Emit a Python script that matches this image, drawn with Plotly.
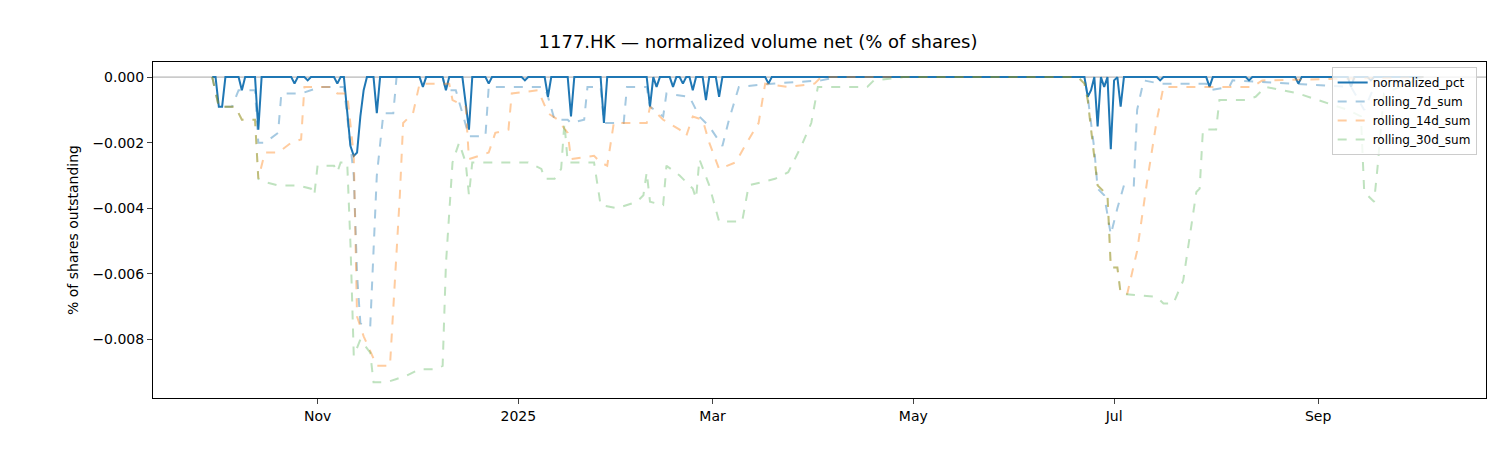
import pandas as pd
import plotly.graph_objects as go

START = "2024-09-30"
N_DAYS = 369

# normalized_pct: nonzero days (day offset from START -> value); all other days 0
norm_days = [2, 3, 9, 14, 25, 29, 38, 41, 42, 43, 44, 45, 46, 50, 64, 71, 77, 78, 84, 95,
             102, 109, 119, 133, 135, 140, 143, 146, 150, 154, 169,
             266, 267, 269, 271, 273, 274, 276, 288, 303, 315, 330, 346, 352]
norm_vals = [-0.0009, -0.0009, -0.0004, -0.0016, -0.0002, -0.0001, -0.0002, -0.0010, -0.0021, -0.0024,
             -0.0023, -0.0012, -0.0004, -0.0011, -0.0003, -0.0004, -0.0008, -0.0016, -0.0002, -0.0001,
             -0.0006, -0.0012, -0.0014, -0.0009, -0.0003, -0.0003, -0.0002, -0.0004, -0.0007, -0.0006, -0.0002,
             -0.0006, -0.0004, -0.0015, -0.0003, -0.0022, -0.0001, -0.0009, -0.0001, -0.0003, -0.0001,
             -0.0002, -0.0003, -0.0001]

r7_days = [0, 2, 6, 8, 13, 14, 16, 20, 21, 27, 33, 40, 43, 44, 45, 47, 48, 50, 52, 55, 56, 70, 71, 74, 76,
           78, 83, 84, 96, 101, 102, 104, 108, 109, 113, 114, 118, 119, 125, 126, 132, 133, 137, 138,
           145, 148, 151, 155, 157, 160, 170, 185, 190, 265, 266, 268, 269, 271, 273, 275, 277, 280,
           281, 283, 288, 302, 303, 309, 310, 330, 346, 350, 353, 368]
r7_vals = [0, -0.0009, -0.0009, -0.0004, -0.0004, -0.0020, -0.0020, -0.0017, -0.0005, -0.0005, -0.0003,
           -0.0003, -0.0030, -0.0060, -0.0075, -0.0076, -0.0076, -0.0030, -0.0011, -0.0011, 0, 0, -0.0004,
           -0.0004, -0.0011, -0.0018, -0.0018, -0.0003, -0.0003, -0.0003, -0.0006, -0.0013, -0.0013,
           -0.0014, -0.0013, -0.0003, -0.0003, -0.0014, -0.0014, -0.0003, -0.0003, -0.0009, -0.0012,
           -0.0005, -0.0006, -0.0012, -0.0015, -0.0021, -0.0013, -0.0003, -0.0002, -0.0001, 0, 0,
           -0.0006, -0.0022, -0.0034, -0.0036, -0.0048, -0.0040, -0.0033, -0.0033, -0.0010, -0.0001,
           -0.0002, -0.0002, -0.0004, -0.0003, -0.0001, -0.0002, -0.0003, -0.0010, -0.0003, 0]

r14_days = [0, 2, 7, 9, 13, 14, 16, 20, 24, 27, 28, 36, 38, 41, 43, 44, 46, 50, 54, 57, 58, 61, 63, 72,
            73, 77, 78, 81, 84, 86, 90, 91, 99, 102, 105, 108, 109, 116, 118, 120, 122, 132, 133, 137,
            142, 144, 146, 149, 151, 154, 159, 163, 166, 168, 175, 183, 185, 263, 265, 266, 267, 269,
            272, 273, 275, 276, 278, 281, 284, 287, 289, 316, 319, 368]
r14_vals = [0, -0.0009, -0.0009, -0.0013, -0.0013, -0.0031, -0.0023, -0.0023, -0.0020, -0.0019, -0.0003,
            -0.0003, -0.0005, -0.0005, -0.0024, -0.0073, -0.0079, -0.0088, -0.0088, -0.0036, -0.0014,
            -0.0011, -0.0002, -0.0002, -0.0007, -0.0009, -0.0025, -0.0024, -0.0023, -0.0017, -0.0016,
            -0.0005, -0.0004, -0.0011, -0.0013, -0.0017, -0.0025, -0.0024, -0.0026, -0.0027, -0.0014,
            -0.0014, -0.0009, -0.0013, -0.0016, -0.0018, -0.0012, -0.0013, -0.0020, -0.0028, -0.0026,
            -0.0019, -0.0014, -0.0002, -0.0003, -0.0002, 0, 0, -0.0002, -0.0007, -0.0016, -0.0033,
            -0.0036, -0.0058, -0.0058, -0.0066, -0.0066, -0.0053, -0.0032, -0.0013, -0.0003, -0.0003,
            -0.0001, 0]

r30_days = [0, 2, 7, 9, 13, 14, 16, 20, 26, 30, 31, 32, 37, 38, 39, 41, 42, 43, 45, 48, 49, 53, 56, 59,
            63, 68, 70, 71, 73, 75, 77, 78, 79, 94, 96, 100, 101, 104, 106, 107, 108, 116, 118, 123, 129,
            131, 132, 133, 137, 138, 142, 146, 147, 148, 151, 154, 161, 163, 171, 175, 179, 182, 184,
            199, 201, 210, 263, 265, 266, 267, 269, 272, 273, 275, 276, 287, 289, 292, 295, 299, 300,
            301, 305, 306, 314, 317, 320, 330, 345, 349, 350, 353, 354, 356, 368]
r30_vals = [0, -0.0009, -0.0009, -0.0013, -0.0013, -0.0031, -0.0032, -0.0033, -0.0033, -0.0034, -0.0036,
            -0.0027, -0.0027, -0.0029, -0.0026, -0.0026, -0.0051, -0.0085, -0.0080, -0.0084, -0.0093,
            -0.0093, -0.0092, -0.0091, -0.0089, -0.0089, -0.0088, -0.0057, -0.0026, -0.0020, -0.0026,
            -0.0036, -0.0026, -0.0026, -0.0026, -0.0028, -0.0031, -0.0031, -0.0028, -0.0014, -0.0026,
            -0.0026, -0.0039, -0.0040, -0.0038, -0.0036, -0.0029, -0.0038, -0.0039, -0.0027, -0.0030,
            -0.0034, -0.0037, -0.0025, -0.0033, -0.0044, -0.0044, -0.0033, -0.0031, -0.0029, -0.0021,
            -0.0014, -0.0003, -0.0003, -0.0001, 0, 0, -0.0002, -0.0007, -0.0016, -0.0033, -0.0036,
            -0.0058, -0.0058, -0.0066, -0.0067, -0.0069, -0.0069, -0.0062, -0.0035, -0.0034, -0.0016,
            -0.0016, -0.0007, -0.0007, -0.0006, -0.0003, -0.0005, -0.0010, -0.0012, -0.0035, -0.0038,
            -0.0028, -0.0005, 0]

tick_dates = ["2024-11-01", "2025-01-01", "2025-03-01", "2025-05-01", "2025-07-01", "2025-09-01"]
tick_labels = ["Nov", "2025", "Mar", "May", "Jul", "Sep"]
y_ticks = [0.0, -0.002, -0.004, -0.006, -0.008]

start = pd.Timestamp(START)
def to_dates(days):
    return [start + pd.Timedelta(days=d) for d in days]

norm_map = dict(zip(norm_days, norm_vals))
all_days = list(range(N_DAYS))
norm_series = [norm_map.get(d, 0.0) for d in all_days]

fig = go.Figure()
fig.add_trace(go.Scatter(x=to_dates(all_days), y=norm_series, mode="lines", name="normalized_pct",
                         line=dict(color="#1f77b4", width=2)))
fig.add_trace(go.Scatter(x=to_dates(r7_days), y=r7_vals, mode="lines", name="rolling_7d_sum",
                         line=dict(color="rgba(31,119,180,0.4)", width=2, dash="dash")))
fig.add_trace(go.Scatter(x=to_dates(r14_days), y=r14_vals, mode="lines", name="rolling_14d_sum",
                         line=dict(color="rgba(255,127,14,0.4)", width=2, dash="dash")))
fig.add_trace(go.Scatter(x=to_dates(r30_days), y=r30_vals, mode="lines", name="rolling_30d_sum",
                         line=dict(color="rgba(44,160,44,0.3)", width=2, dash="dash")))

fig.add_hline(y=0, line=dict(color="rgba(0,0,0,0.6)", width=0.6), layer="below")

fig.update_layout(
    width=1500, height=450,
    paper_bgcolor="white", plot_bgcolor="white",
    margin=dict(l=145, r=22, t=54, b=60, autoexpand=False),
    font=dict(family="DejaVu Sans", size=14, color="black"),
    title=dict(text="1177.HK — normalized volume net (% of shares)", x=0.5, xanchor="center",
               y=1 - 34/450, yanchor="middle", font=dict(size=18)),
    showlegend=True,
    legend=dict(x=0.993, y=0.985, xanchor="right", yanchor="top", bgcolor="rgba(255,255,255,0.8)",
                bordercolor="#cccccc", borderwidth=1, font=dict(size=12), tracegroupgap=0),
    xaxis=dict(range=["2024-09-12", "2025-10-22"], tickvals=tick_dates, ticktext=tick_labels,
               showgrid=False, zeroline=False, showline=True, linecolor="black", mirror=True,
               ticks="outside", ticklen=5, tickfont=dict(size=14), automargin=False),
    yaxis=dict(range=[-0.00978, 0.00046], tickvals=y_ticks, tickformat=".3f",
               title=dict(text="% of shares outstanding", standoff=10, font=dict(size=14)),
               showgrid=False, zeroline=False, showline=True, linecolor="black", mirror=True,
               ticks="outside", ticklen=5, tickfont=dict(size=14), automargin=False),
)

fig.write_html("out.html")
